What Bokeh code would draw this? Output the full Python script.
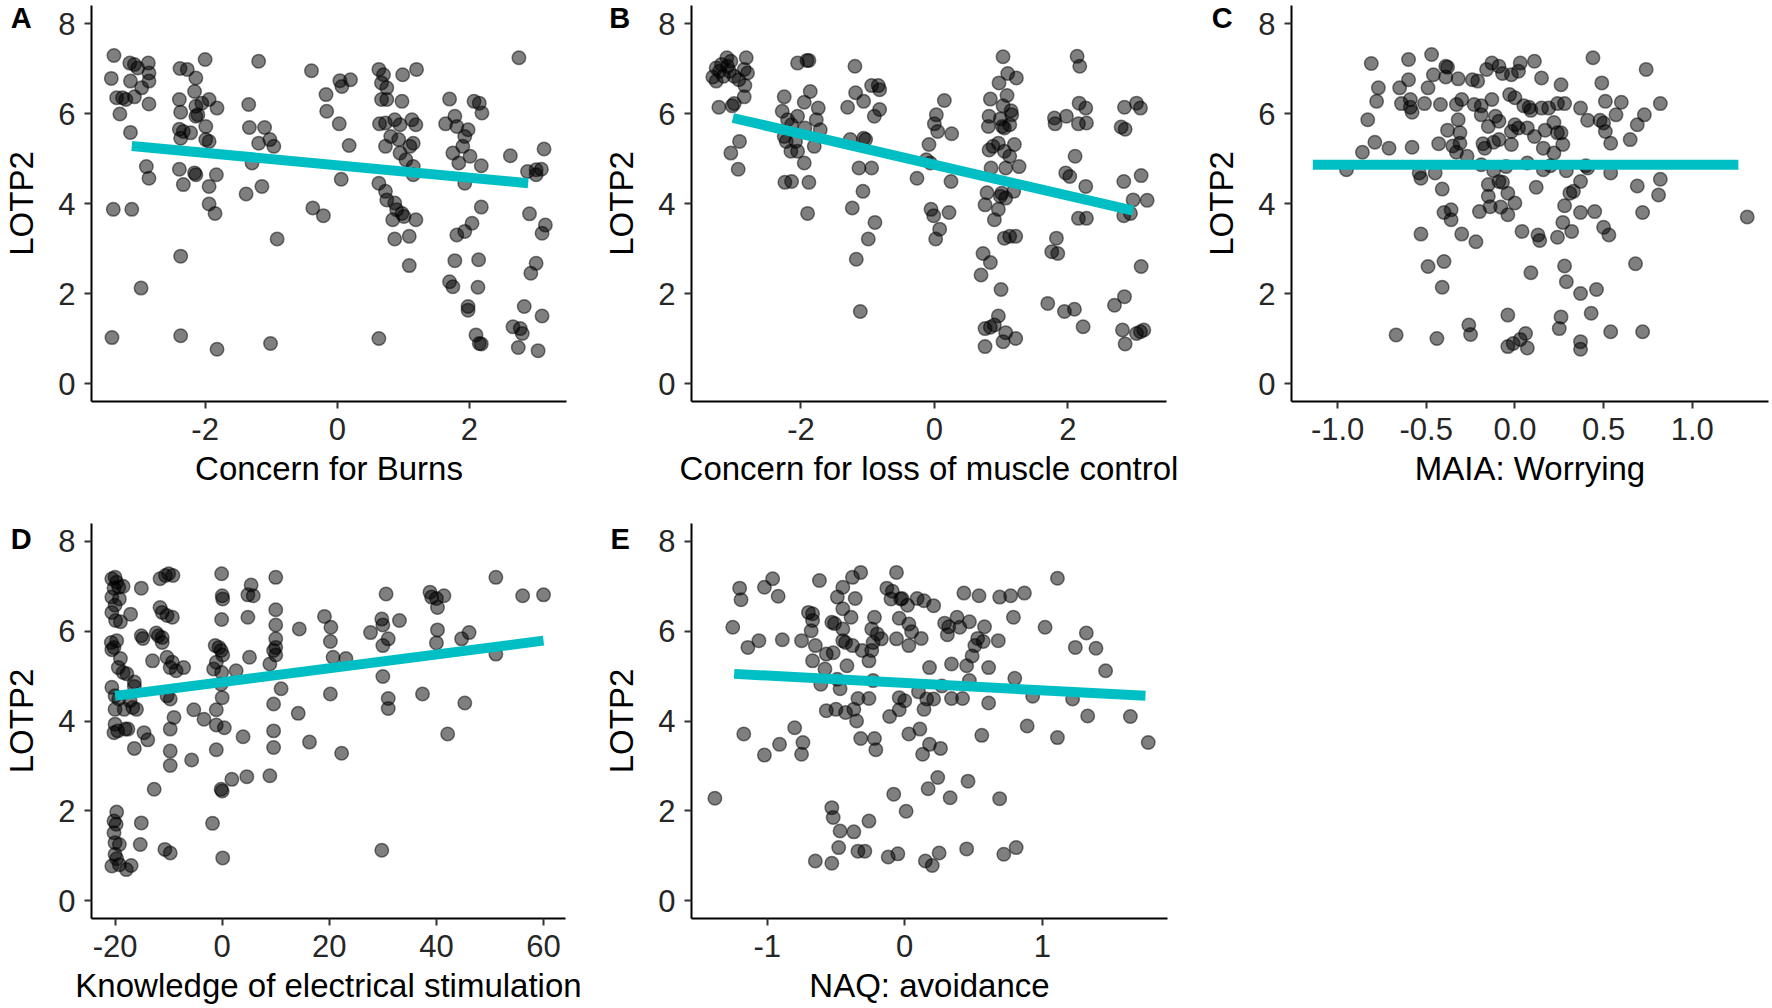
from bokeh.plotting import figure
from bokeh.layouts import column, row
from bokeh.models import Range1d, FixedTicker, PrintfTickFormatter, Label, ColumnDataSource
from bokeh.embed import file_html
from bokeh.resources import INLINE

# ---------------- data ----------------
Y_LABEL = "LOTP2"
Y_TICKS = [0, 2, 4, 6, 8]

# Panel A: Concern for Burns
A_points = [(-3.38,7.29),(-3.42,6.78),(-3.34,6.35),(-3.25,6.35),(-3.29,5.99),(-3.13,5.58),(-3.39,3.87),(-3.11,3.87),
    (-2.97,2.12),(-3.41,1.02),(-3.14,7.12),(-3.07,7.09),(-3.13,6.72),(-3.07,6.37),(-2.96,6.57),(-2.86,7.12),(-2.85,6.9),
    (-2.85,6.72),(-2.85,6.21),(-2.89,4.82),(-2.85,4.56),(-3.02,7.01),(-3.2,6.31),
    (-2.38,7.0),(-2.27,6.98),(-2.0,7.2),(-2.14,6.79),(-2.39,6.31),(-2.37,6.03),(-2.16,6.49),(-2.14,6.16),(-2.11,5.97),
    (-1.94,6.31),(-1.82,6.12),(-1.99,5.71),(-2.39,5.65),(-2.33,5.6),(-2.22,5.57),(-2.37,5.45),(-1.99,5.42),(-1.94,5.38),
    (-2.39,4.76),(-2.16,4.68),(-2.14,4.64),(-2.33,4.42),(-1.83,4.64),(-1.94,4.38),(-1.94,3.99),(-1.85,3.78),(-2.37,2.83),
    (-2.37,1.06),(-1.82,0.76),(-2.05,6.23),(-2.14,5.94),
    (-1.19,7.16),(-1.34,6.2),(-1.33,5.69),(-1.1,5.69),(-1.19,5.34),(-1.02,5.42),(-0.96,5.27),(-1.29,4.9),(-1.14,4.38),
    (-1.38,4.21),(-0.91,3.21),(-1.01,0.89),
    (-0.39,6.95),(-0.17,6.42),(-0.16,6.05),(0.04,6.73),(0.07,6.6),(0.2,6.75),(0.03,5.77),(0.18,5.29),(0.06,4.54),
    (-0.37,3.9),(-0.21,3.73),
    (0.63,6.98),(0.7,6.86),(0.99,6.86),(1.2,6.98),(0.67,6.68),(0.75,6.57),(0.67,6.31),(0.75,6.31),(0.98,6.27),(0.64,5.77),
    (0.73,5.79),(0.87,5.86),(0.95,5.75),(1.13,5.86),(1.19,5.75),(0.81,5.49),(0.93,5.42),(0.73,5.27),(0.95,5.12),(1.1,5.27),
    (1.15,5.34),(1.04,4.97),(1.15,4.82),(1.15,4.64),(0.63,4.45),(0.73,4.27),(0.75,4.08),(0.87,4.01),(0.9,3.86),(0.98,3.78),
    (0.84,3.64),(1.19,3.64),(0.87,3.21),(1.09,3.27),(1.09,2.62),(0.63,1.0),(1.01,3.71),
    (1.7,6.32),(1.78,5.94),(1.64,5.77),(1.81,5.71),(1.98,5.64),(2.07,6.27),(2.15,6.23),(2.19,6.01),(1.93,5.49),(1.9,5.27),
    (1.75,5.12),(1.84,4.9),(2.01,5.05),(2.18,4.84),(1.93,4.45),(2.18,3.92),(2.04,3.56),(1.81,3.3),(1.93,3.38),(1.78,2.73),
    (2.14,2.75),(1.7,2.26),(1.75,2.15),(2.13,2.14),(1.98,1.71),(1.98,1.63),(2.1,1.08),(2.15,0.89),(2.18,0.88),
    (2.75,7.24),(2.62,5.06),(3.13,5.21),(2.88,4.71),(3.01,4.75),(3.09,4.76),(3.01,4.64),(2.91,3.77),(3.15,3.52),(3.1,3.34),
    (3.01,2.67),(2.93,2.45),(2.83,1.71),(3.1,1.5),(2.66,1.26),(2.77,1.22),(2.8,1.11),(2.74,0.8),(3.04,0.73)]
A_fit_x = [-3.11, 2.89]
A_fit_y = [5.28, 4.45]
A_xticks = [-2, 0, 2]

# Panel B: Concern for loss of muscle control
B_points = [(-3.32,6.81),(-3.27,7.01),(-3.22,6.94),(-3.19,7.09),(-3.11,7.24),(-3.1,7.05),(-3.05,7.16),(-3.07,6.94),
    (-3.16,6.83),(-3.27,6.72),(-3.0,6.83),(-2.93,6.75),(-2.82,7.24),(-2.85,6.98),(-2.8,6.9),(-2.84,6.62),(-2.85,6.37),
    (-3.0,6.22),(-3.03,6.17),(-3.23,6.14),(-2.92,5.38),(-3.05,5.12),(-2.94,4.76),
    (-2.05,7.12),(-1.91,7.18),(-1.88,7.18),(-2.25,6.37),(-1.86,6.49),(-1.95,6.25),(-1.74,6.12),(-2.28,6.05),(-2.2,5.86),
    (-2.05,5.94),(-2.14,5.75),(-1.77,5.86),(-1.94,5.68),(-1.71,5.64),(-2.25,5.49),(-2.22,5.38),(-2.08,5.38),(-2.15,5.16),
    (-2.05,5.16),(-1.8,5.27),(-1.95,4.9),(-2.24,4.47),(-2.14,4.49),(-1.88,4.47),(-1.9,3.78),
    (-1.19,7.05),(-1.18,6.46),(-1.06,6.27),(-1.3,6.14),(-0.94,6.62),(-0.84,6.62),(-0.82,6.53),(-0.82,6.09),(-0.9,5.94),
    (-1.26,5.42),(-1.06,5.45),(-1.03,5.42),(-1.13,4.79),(-0.94,4.79),(-1.07,4.27),(-1.23,3.9),(-0.89,3.58),(-0.99,3.21),
    (-1.17,2.76),(-1.11,1.6),
    (0.15,6.29),(0.03,5.97),(0.0,5.77),(0.05,5.6),(0.26,5.55),(-0.08,5.31),(-0.12,4.97),(-0.06,4.9),(-0.26,4.56),
    (0.25,4.49),(-0.05,3.87),(-0.01,3.73),(0.22,3.8),(0.08,3.43),(0.02,3.21),
    (1.03,7.26),(1.1,6.89),(1.23,6.79),(0.97,6.68),(1.09,6.4),(0.84,6.32),(1.03,6.17),(1.15,6.06),(1.16,5.97),(0.82,5.94),
    (0.99,5.88),(0.81,5.71),(1.02,5.71),(1.05,5.68),(1.13,5.75),(0.96,5.34),(1.2,5.31),(0.82,5.19),(0.88,5.27),(1.13,5.05),
    (1.05,5.16),(1.27,4.82),(0.85,4.79),(1.07,4.79),(0.79,4.24),(1.01,4.23),(1.07,4.12),(1.19,4.27),(0.99,4.16),(0.76,3.97),
    (0.96,3.87),(0.9,3.64),(1.05,3.23),(1.13,3.27),(1.22,3.27),(0.73,2.89),(0.84,2.69),(0.7,2.41),(1.0,2.09),(0.96,1.5),
    (0.76,1.22),(0.84,1.25),(0.9,1.3),(1.07,1.13),(1.03,0.93),(1.22,1.0),(0.76,0.82),
    (2.14,7.27),(2.18,7.05),(1.8,5.9),(1.81,5.77),(1.98,5.94),(2.17,6.23),(2.27,6.12),(2.16,5.77),(2.28,5.79),(2.11,5.05),
    (1.97,4.68),(2.03,4.6),(2.27,4.38),(2.16,3.67),(2.28,3.67),(1.83,3.23),(1.76,2.93),(1.85,2.89),(1.7,1.78),(1.95,1.6),
    (2.1,1.65),(2.23,1.26),
    (2.85,6.14),(3.03,6.23),(3.09,6.12),(2.8,5.7),(2.86,5.65),(2.84,4.49),(3.1,4.62),(2.98,4.08),(3.19,4.07),(2.94,3.78),
    (2.84,3.73),(3.1,2.6),(2.85,1.93),(2.7,1.74),(2.82,1.19),(3.03,1.11),(3.09,1.15),(3.14,1.19),(2.86,0.88)]
B_fit_x = [-3.02, 2.98]
B_fit_y = [5.90, 3.84]
B_xticks = [-2, 0, 2]

# Panel C: MAIA: Worrying
C_points = [(-0.95,4.75),(-0.86,5.14),(-0.83,5.86),(-0.81,7.11),(-0.78,6.27),(-0.77,6.57),(-0.79,5.36),(-0.71,5.23),
    (-0.67,1.08),(-0.65,6.57),(-0.64,6.22),(-0.6,7.2),(-0.6,6.75),(-0.59,6.14),(-0.58,6.03),(-0.58,5.25),(-0.59,6.31),
    (-0.54,4.68),(-0.53,4.56),(-0.53,3.32),(-0.49,2.6),(-0.51,6.22),(-0.49,6.57),(-0.47,7.31),(-0.46,6.86),(-0.45,4.68),
    (-0.44,1.0),(-0.43,5.33),(-0.42,6.2),(-0.41,4.32),(-0.41,2.14),(-0.4,2.71),(-0.4,3.8),(-0.39,7.05),(-0.38,7.03),
    (-0.39,6.81),(-0.38,5.63),(-0.36,3.86),(-0.36,3.64),(-0.35,5.28),(-0.33,5.14),(-0.33,6.2),(-0.32,6.77),(-0.32,5.86),
    (-0.31,5.57),(-0.31,5.34),(-0.3,3.32),(-0.3,6.31),(-0.27,5.05),(-0.26,1.3),(-0.25,1.09),(-0.24,6.75),(-0.23,6.2),
    (-0.22,3.15),(-0.21,6.72),(-0.2,3.82),(-0.19,5.97),(-0.19,6.17),(-0.19,4.86),(-0.18,5.33),(-0.17,5.23),(-0.16,6.98),
    (-0.15,5.71),(-0.15,4.42),(-0.15,4.16),(-0.14,3.93),(-0.13,7.12),(-0.13,6.31),(-0.12,5.36),(-0.12,4.73),(-0.11,5.94),
    (-0.09,7.05),(-0.09,5.83),(-0.09,5.42),(-0.09,4.49),(-0.08,3.92),(-0.07,6.89),(-0.07,4.47),(-0.05,4.82),(-0.04,4.23),
    (-0.04,3.75),(-0.04,1.52),(-0.04,0.82),(-0.03,6.42),(-0.02,6.86),(-0.02,5.31),(-0.02,5.6),(-0.01,0.89),(0.0,5.75),
    (0.0,4.01),(0.0,6.35),(0.02,5.68),(0.02,6.94),(0.03,7.12),(0.03,0.98),(0.04,3.38),(0.05,6.17),(0.06,1.11),(0.07,0.79),
    (0.07,4.9),(0.07,5.68),(0.08,6.14),(0.09,6.07),(0.09,2.46),(0.11,5.49),(0.11,7.16),(0.12,4.36),(0.13,3.3),(0.14,3.18),
    (0.15,6.79),(0.15,6.12),(0.16,5.23),(0.16,4.75),(0.17,5.63),(0.19,6.12),(0.2,4.84),(0.22,5.12),(0.22,5.8),(0.24,6.22),
    (0.24,3.25),(0.24,5.57),(0.25,1.22),(0.26,1.48),(0.26,5.57),(0.26,6.64),(0.27,5.31),(0.28,6.22),(0.27,3.58),(0.28,3.95),
    (0.28,2.61),(0.29,2.26),(0.29,4.73),(0.31,4.23),(0.32,3.38),(0.33,4.27),(0.37,2.0),(0.37,6.12),(0.37,0.93),(0.37,0.76),
    (0.37,3.8),(0.37,4.49),(0.4,4.84),(0.41,4.79),(0.41,5.85),(0.43,1.56),(0.44,7.24),(0.45,3.82),(0.46,2.09),(0.48,5.85),
    (0.49,6.68),(0.5,5.79),(0.51,6.27),(0.51,5.6),(0.5,3.47),(0.53,3.3),(0.54,5.34),(0.54,4.68),(0.54,1.15),(0.57,5.97),
    (0.6,6.25),(0.65,5.42),(0.69,4.39),(0.68,2.66),(0.69,5.75),(0.72,3.8),(0.72,1.15),(0.73,5.97),(0.74,6.98),(0.81,4.19),
    (0.82,6.22),(0.82,4.54),(1.31,3.7)]
C_fit_x = [-1.14, 1.26]
C_fit_y = [4.86, 4.86]
C_xticks = [-1.0, -0.5, 0.0, 0.5, 1.0]

# Panel D: Knowledge of electrical stimulation
D_points = [(-20.6,7.17),(-20.0,7.2),(-19.7,7.09),(-20.2,6.96),(-19.3,6.98),(-18.5,7.0),(-20.6,6.76),(-19.2,6.72),
    (-20.0,6.58),(-20.6,6.42),(-19.9,6.24),(-19.0,6.21),(-20.7,5.75),(-20.2,5.64),(-19.7,5.79),(-20.6,5.59),(-19.0,5.39),
    (-19.4,5.19),(-18.5,5.08),(-20.6,4.75),(-20.0,4.56),(-19.3,4.49),(-20.0,4.26),(-18.3,4.26),(-20.0,3.93),(-20.2,3.74),
    (-19.5,3.78),(-18.1,3.82),(-17.6,3.82),(-19.7,1.97),(-20.2,1.77),(-19.8,1.7),(-20.2,1.51),(-20.0,1.29),(-19.2,1.25),
    (-20.0,1.03),(-19.7,0.93),(-20.6,0.77),(-19.2,0.8),(-17.9,0.69),(-17.0,0.78),(-17.1,6.38),(-17.8,5.05),(-16.4,4.87),
    (-16.4,4.77),(-17.2,4.45),(-16.7,4.3),(-16.0,4.26),(-15.1,6.96),(-15.1,5.9),(-14.8,5.84),(-14.6,3.74),(-13.9,3.58),
    (-16.4,3.39),(-15.1,1.73),(-15.3,1.25),(-12.7,2.48),(-13.0,5.34),(-12.3,5.96),(-11.9,5.9),(-11.2,5.86),(-11.6,7.17),
    (-10.6,7.24),(-10.0,7.28),(-9.2,7.24),(-11.6,6.53),(-11.2,6.42),(-10.3,6.35),(-9.3,6.31),(-11.2,5.75),(-10.3,5.42),
    (-9.3,5.31),(-9.7,5.19),(-8.6,5.12),(-7.2,5.19),(-10.3,4.56),(-9.7,4.49),(-9.7,3.82),(-9.0,4.08),(-9.7,3.33),
    (-9.7,3.01),(-10.7,1.14),(-9.7,1.06),(-5.7,3.13),(-5.3,4.25),(-3.4,4.04),(-1.6,5.16),(-1.1,5.31),(-1.3,5.68),
    (-1.1,4.25),(-1.1,3.91),(-1.1,3.36),(-1.8,1.72),(-0.6,5.64),(-0.1,7.28),(0.0,6.79),(0.1,6.72),(-0.1,6.26),(-0.2,5.57),
    (0.1,5.47),(-0.1,5.08),(-0.2,4.82),(0.0,4.52),(0.4,3.85),(0.0,2.44),(-0.2,2.48),(0.1,0.95),(1.8,2.7),(2.6,5.12),
    (3.9,3.65),(4.6,2.76),(4.8,6.31),(5.1,5.42),(5.4,7.03),(4.8,6.81),(5.8,6.79),(8.9,5.27),(8.9,2.78),(9.6,3.41),
    (9.6,3.78),(9.6,4.38),(10.0,7.2),(10.0,6.48),(10.0,6.14),(10.0,5.83),(10.0,5.64),(9.6,5.57),(10.0,5.47),(11.0,4.72),
    (14.2,4.17),(14.4,6.05),(16.3,3.53),(19.1,6.33),(20.3,6.09),(20.2,5.77),(20.2,4.6),(20.7,5.42),(22.3,3.28),(23.1,5.39),
    (27.7,5.97),(29.8,6.27),(30.0,6.14),(30.0,5.68),(30.0,4.99),(29.8,1.12),(30.6,6.83),(31.0,5.83),(31.0,4.5),(31.0,4.28),
    (33.1,6.24),(37.4,4.6),(38.8,6.87),(39.1,6.76),(40.0,6.73),(40.2,6.53),(41.4,6.79),(40.2,6.03),(40.0,5.74),(42.1,3.71),
    (44.7,5.83),(45.3,4.4),(46.1,5.97),(51.1,7.2),(51.1,5.49),(56.1,6.79),(60.0,6.81)]
D_fit_x = [-20.0, 60.0]
D_fit_y = [4.56, 5.79]
D_xticks = [-20, 0, 20, 40, 60]

# Panel E: NAQ: avoidance
E_points = [(-1.38,2.28),(-1.25,6.09),(-1.2,6.96),(-1.19,6.7),(-1.17,3.71),(-1.14,5.64),(-1.06,5.79),(-1.02,6.98),
    (-1.02,3.24),(-0.96,7.17),(-0.92,6.78),(-0.91,3.48),(-0.89,5.81),(-0.8,3.85),(-0.75,3.26),(-0.74,3.52),(-0.75,5.79),
    (-0.7,6.42),(-0.67,6.39),(-0.67,6.24),(-0.68,6.01),(-0.67,5.34),(-0.65,0.88),(-0.62,7.13),(-0.65,5.68),(-0.61,4.82),
    (-0.58,5.16),(-0.57,4.23),(-0.57,5.49),(-0.53,2.07),(-0.52,1.85),(-0.53,0.83),(-0.53,6.2),(-0.52,5.52),(-0.51,6.17),
    (-0.5,4.26),(-0.49,6.76),(-0.49,4.93),(-0.48,1.18),(-0.47,1.55),(-0.47,4.72),(-0.45,6.98),(-0.45,6.5),(-0.45,6.05),
    (-0.45,5.79),(-0.43,4.19),(-0.43,5.75),(-0.42,5.23),(-0.39,6.31),(-0.38,7.2),(-0.38,5.68),(-0.37,1.53),(-0.37,4.26),
    (-0.36,6.73),(-0.35,4.0),(-0.34,1.1),(-0.34,4.5),(-0.32,7.31),(-0.32,3.61),(-0.31,5.57),(-0.29,1.1),(-0.26,4.5),
    (-0.26,1.77),(-0.26,5.34),(-0.24,5.57),(-0.24,6.05),(-0.23,5.75),(-0.22,6.31),(-0.22,3.61),(-0.21,3.36),(-0.23,4.9),
    (-0.2,5.94),(-0.17,5.83),(-0.13,6.96),(-0.12,0.97),(-0.11,4.1),(-0.1,6.72),(-0.09,6.89),(-0.08,2.37),(-0.06,7.31),
    (-0.06,5.83),(-0.05,1.04),(-0.04,6.29),(-0.04,4.52),(-0.04,4.25),(-0.03,6.72),(-0.02,6.73),(0.0,4.45),(0.01,1.99),
    (0.02,6.58),(0.03,5.68),(0.03,6.16),(0.03,3.71),(0.05,5.99),(0.09,6.73),(0.1,4.65),(0.11,3.82),(0.12,5.84),(0.13,3.26),
    (0.14,6.68),(0.14,4.26),(0.15,0.88),(0.17,2.49),(0.18,3.48),(0.16,4.49),(0.18,5.19),(0.2,0.78),(0.21,6.57),(0.21,4.49),
    (0.24,2.74),(0.25,1.06),(0.26,3.39),(0.27,4.78),(0.29,6.18),(0.31,5.92),(0.32,6.1),(0.33,2.29),(0.34,5.27),(0.34,4.5),
    (0.38,6.31),(0.4,6.09),(0.42,4.5),(0.43,6.85),(0.45,5.23),(0.45,1.15),(0.46,2.66),(0.47,6.21),(0.47,4.9),(0.49,5.45),
    (0.51,5.68),(0.53,5.84),(0.54,6.79),(0.56,3.68),(0.57,5.77),(0.58,6.1),(0.61,4.4),(0.61,5.19),(0.68,5.79),(0.69,6.76),
    (0.69,2.27),(0.72,1.03),(0.79,6.31),(0.77,6.79),(0.8,4.95),(0.81,1.18),(0.87,6.85),(0.89,3.89),(0.93,4.55),(1.02,6.09),
    (1.11,7.18),(1.11,3.63),(1.22,4.49),(1.24,5.64),(1.32,5.96),(1.33,4.11),(1.39,5.62),(1.46,5.12),(1.64,4.1),(1.77,3.52)]
E_fit_x = [-1.24, 1.75]
E_fit_y = [5.05, 4.56]
E_xticks = [-1, 0, 1]

# ---------------- styling ----------------
FONT = "Liberation Sans"
TEAL = "#00BFC4"
Y_RANGE = (-0.4, 8.4)


def make_panel(points, fit_x, fit_y, xticks, xlabel, letter, xr, width, height,
               bl, br, bt, bb, fmt="%d", letter_dx=-79, letter_dy=0, letter_side="right"):
    p = figure(width=width, height=height, x_range=Range1d(*xr), y_range=Range1d(*Y_RANGE),
               output_backend="svg", toolbar_location=None,
               min_border_left=bl, min_border_right=br, min_border_top=bt, min_border_bottom=bb,
               background_fill_color="white", border_fill_color="white", outline_line_color=None)
    p.grid.visible = False
    src = ColumnDataSource(dict(x=[q[0] for q in points], y=[q[1] for q in points]))
    p.scatter("x", "y", source=src, size=13.5, fill_color="black", fill_alpha=0.5,
              line_color="black", line_alpha=0.5, line_width=1.5)
    p.line(fit_x, fit_y, line_color=TEAL, line_width=10)

    p.xaxis.ticker = FixedTicker(ticks=xticks)
    p.yaxis.ticker = FixedTicker(ticks=Y_TICKS)
    p.xaxis.formatter = PrintfTickFormatter(format=fmt)
    p.yaxis.formatter = PrintfTickFormatter(format="%d")
    p.xaxis.axis_label = xlabel
    p.yaxis.axis_label = Y_LABEL
    for ax in (p.xaxis[0], p.yaxis[0]):
        ax.axis_line_color = "black"
        ax.axis_line_width = 2
        ax.major_tick_in = 0
        ax.major_tick_out = 7
        ax.major_tick_line_width = 2
        ax.major_tick_line_color = "#333333"
        ax.minor_tick_line_color = None
        ax.major_label_text_font = FONT
        ax.major_label_text_font_size = "31px"
        ax.major_label_text_color = "#262626"
        ax.axis_label_text_font = FONT
        ax.axis_label_text_font_size = "33px"
        ax.axis_label_text_font_style = "normal"
        ax.axis_label_text_color = "black"
    p.xaxis[0].major_label_standoff = 9
    p.xaxis[0].axis_label_standoff = 7
    p.yaxis[0].major_label_standoff = 9
    p.yaxis[0].axis_label_standoff = 15

    # panel letter: placed in a side panel (so it is not clipped to the plot frame),
    # positioned by pixel offsets from the frame's left / top edge
    frame_w = width - bl - br
    frame_h = height - bt - bb
    lx = xr[0] + letter_dx * (xr[1] - xr[0]) / frame_w
    ly = Y_RANGE[1] + letter_dy * (Y_RANGE[1] - Y_RANGE[0]) / frame_h
    p.add_layout(Label(x=lx, y=ly, text=letter,
                       text_font=FONT, text_font_style="bold", text_font_size="29px",
                       text_baseline="top", text_align="left", text_color="black"), letter_side)
    return p


pA = make_panel(A_points, A_fit_x, A_fit_y, A_xticks, "Concern for Burns", "A",
                (-3.72, 3.47), 600, 521, 83, 34, 5, 120, letter_dx=-82, letter_dy=4)
pB = make_panel(B_points, B_fit_x, B_fit_y, B_xticks, "Concern for loss of muscle control", "B",
                (-3.64, 3.48), 600, 521, 86, 34, 5, 120, letter_dx=-83, letter_dy=4)
pC = make_panel(C_points, C_fit_x, C_fit_y, C_xticks, "MAIA: Worrying", "C",
                (-1.26, 1.43), 570, 521, 89, 2, 5, 120, fmt="%.1f", letter_dx=-80, letter_dy=4,
                letter_side="below")
pD = make_panel(D_points, D_fit_x, D_fit_y, D_xticks, "Knowledge of electrical stimulation", "D",
                (-24.4, 64.1), 600, 485, 83, 35, 2, 88, letter_dx=-82, letter_dy=1)
pE = make_panel(E_points, E_fit_x, E_fit_y, E_xticks, "NAQ: avoidance", "E",
                (-1.55, 1.91), 600, 485, 85, 33, 2, 88, letter_dx=-82, letter_dy=1)

layout = column(row(pA, pB, pC), row(pD, pE))
open("out.html", "w").write(file_html(layout, INLINE))
